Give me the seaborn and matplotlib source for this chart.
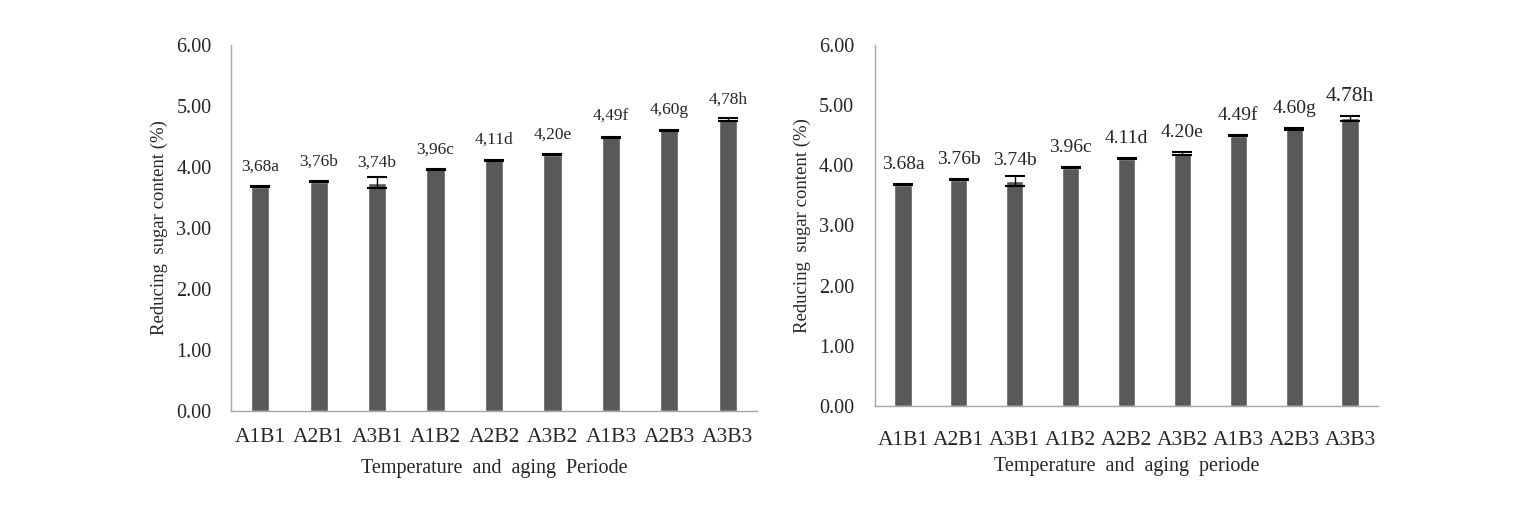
import numpy as np
import pandas as pd
import matplotlib
matplotlib.use("Agg")
import matplotlib.pyplot as plt
import seaborn as sns

# data
treatments = ["A1B1", "A2B1", "A3B1", "A1B2", "A2B2", "A3B2", "A1B3", "A2B3", "A3B3"]
sugar = [3.68, 3.76, 3.74, 3.96, 4.11, 4.20, 4.49, 4.60, 4.78]
err_left = [0.01, 0.01, 0.09, 0.01, 0.01, 0.01, 0.01, 0.01, 0.02]
err_right = [0.01, 0.01, 0.09, 0.01, 0.01, 0.02, 0.01, 0.02, 0.04]
letters = ["a", "b", "b", "c", "d", "e", "f", "g", "h"]
yticks = [0, 1, 2, 3, 4, 5, 6]

sns.set_style("white")
plt.rcParams["font.family"] = ["Liberation Serif", "DejaVu Serif"]

df = pd.DataFrame({"treatment": treatments, "sugar": sugar})

fig = plt.figure(figsize=(15.32, 5.14), dpi=100)
ax1 = fig.add_axes([231 / 1532, 1 - 411 / 514, 526 / 1532, 366 / 514])
ax2 = fig.add_axes([875 / 1532, 1 - 406 / 514, 503 / 1532, 361 / 514])

bar_color = "#595959"
spine_color = "#a6a6a6"


def draw(ax, errs, sep, xlabel, xpad, lpad, ypad, ann_sizes):
    sns.barplot(data=df, x="treatment", y="sugar", color=bar_color,
                width=0.31, errorbar=None, saturation=1, ax=ax)
    ax.errorbar(np.arange(len(sugar)), sugar, yerr=errs, fmt="none",
                ecolor="black", elinewidth=1, capsize=7, capthick=1.5)
    for i, (v, l) in enumerate(zip(sugar, letters)):
        txt = f"{v:.2f}".replace(".", sep) + l
        ax.text(i, v + 0.2, txt, ha="center", va="bottom", fontsize=ann_sizes[i])
    ax.set_ylim(0, 6)
    ax.set_xlim(-0.5, 8.5)
    ax.set_yticks(yticks)
    ax.set_yticklabels([f"{t:.2f}" for t in yticks], fontsize=14.5)
    ax.tick_params(axis="x", labelsize=15.5, length=0, pad=xpad)
    ax.tick_params(axis="y", length=0, pad=ypad)
    ax.set_xlabel(xlabel, fontsize=14.5, labelpad=lpad)
    ax.set_ylabel("Reducing  sugar content (%)", fontsize=13.5, labelpad=6)
    for s in ["top", "right"]:
        ax.spines[s].set_visible(False)
    for s in ["left", "bottom"]:
        ax.spines[s].set_color(spine_color)
        ax.spines[s].set_linewidth(1)


draw(ax1, err_left, ",", "Temperature  and  aging  Periode",
     12, 9, 14, [12.5] * 9)
draw(ax2, err_right, ".", "Temperature  and  aging  periode",
     18, 5, 15, [14] * 8 + [15.5])

fig.savefig("out.png", dpi=100)
